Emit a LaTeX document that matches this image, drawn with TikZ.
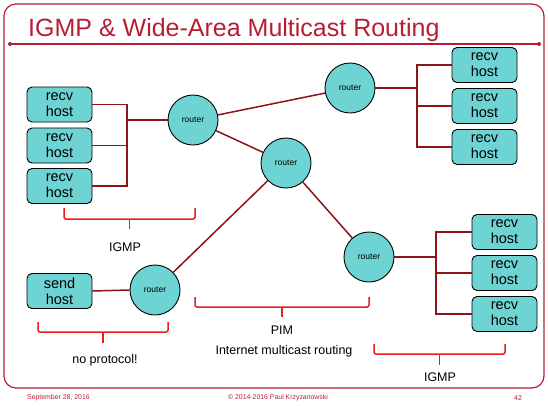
\documentclass[tikz,border=0pt]{standalone}
\usepackage{fontspec}
\setmainfont{Liberation Sans}
\definecolor{frame}{RGB}{182,30,52}
\definecolor{wire}{RGB}{140,20,20}
\definecolor{brace}{RGB}{232,30,30}
\definecolor{teal}{RGB}{110,211,211}
\tikzset{
  host/.style={draw=black, line width=0.9pt, fill=teal, rounded corners=5pt,
    minimum width=65pt, minimum height=35pt, inner sep=0pt, align=center,
    font=\fontsize{14.5}{16}\selectfont},
  router/.style={draw=black, line width=0.9pt, fill=teal, circle,
    minimum size=50pt, inner sep=0pt, font=\fontsize{8.5}{10}\selectfont},
  link/.style={draw=wire, line width=1.5pt},
  bracket/.style={draw=brace, line width=1.5pt, rounded corners=2pt},
  lbl/.style={font=\fontsize{12.5}{14}\selectfont, inner sep=0pt},
  foot/.style={font=\fontsize{6.9}{8}\selectfont, text=frame, inner sep=0pt}
}
% square curly bracket: x1, x2, top, middle, tip
\newcommand\sqBrace[5]{%
  \draw[bracket] (#1,#3) -- (#1,#4) -- (#2,#4) -- (#2,#3);
  \draw[bracket] ({(#1+#2)/2},#4) -- ({(#1+#2)/2},#5);}
\begin{document}
\begin{tikzpicture}[x=1pt,y=-1pt]
\useasboundingbox (0,0) rectangle (548,405);
% slide frame and title
\draw[frame, line width=1.2pt, rounded corners=12pt] (4,4) rectangle (544,388);
\draw[frame, line width=1.5pt] (10,44) -- (539,44);
\fill[frame] (10,44) circle (2pt) (539,44) circle (2pt);
\node[anchor=base west, text=frame, inner sep=0pt,
  font=\fontsize{25}{30}\selectfont] (title) at (28,36) {IGMP \& Wide-Area Multicast Routing};

% routers
\node[router] (rA) at (193,120) {router};
\node[router] (rB) at (350,88) {router};
\node[router] (rC) at (286,163) {router};
\node[router] (rD) at (369,257) {router};
\node[router] (rS) at (155,290) {router};

% hosts
\node[host] (h1) at (59.5,104.5) {recv\\host};
\node[host] (h2) at (59.5,145.5) {recv\\host};
\node[host] (h3) at (59.5,186) {recv\\host};
\node[host] (t1) at (484.5,65) {recv\\host};
\node[host] (t2) at (484.5,106) {recv\\host};
\node[host] (t3) at (484.5,147) {recv\\host};
\node[host] (b1) at (504.5,232) {recv\\host};
\node[host] (b2) at (504.5,273) {recv\\host};
\node[host] (b3) at (504.5,314) {recv\\host};
\node[host] (s) at (59.5,291) {send\\host};

% LAN buses
\coordinate (busL) at (127,0);
\coordinate (busT) at (417,0);
\coordinate (busB) at (436,0);
\draw[link] (h1.east) -- (h1.east -| busL) -- (h3.east -| busL) -- (h3.east);
\draw[link] (h2.east) -- (h2.east -| busL);
\draw[link] (rA.west) -- (rA.west -| busL);
\draw[link] (t1.west) -- (t1.west -| busT) -- (t3.west -| busT) -- (t3.west);
\draw[link] (t2.west) -- (t2.west -| busT);
\draw[link] (rB.east) -- (rB.east -| busT);
\draw[link] (b1.west) -- (b1.west -| busB) -- (b3.west -| busB) -- (b3.west);
\draw[link] (b2.west) -- (b2.west -| busB);
\draw[link] (rD.east) -- (rD.east -| busB);
\draw[link] (s.east) -- (rS.west);

% wide-area links
\draw[link] (rA) -- (rB);
\draw[link] (rA) -- (rC);
\draw[link] (rC) -- (rS);
\draw[link] (rC) -- (rD);

% brackets and labels
\sqBrace{64}{195}{208}{219}{229}
\node[lbl] (igmpL) at (125,247) {IGMP};
\sqBrace{38}{168}{322}{332}{343}
\node[lbl] (noproto) at (105,360) {no protocol!};
\sqBrace{195}{369}{297}{307}{317}
\node[lbl] (pim) at (282,330) {PIM};
\node[lbl] (inet) at (284,351) {Internet multicast routing};
\sqBrace{374}{505}{344}{354}{365}
\node[lbl] (igmpR) at (440,377) {IGMP};

% footer
\node[foot, anchor=west] (date) at (27,398) {September 28, 2016};
\node[foot] (copy) at (278,398) {© 2014-2016 Paul Krzyzanowski};
\node[foot] (page) at (518,398) {42};
\end{tikzpicture}
\end{document}
